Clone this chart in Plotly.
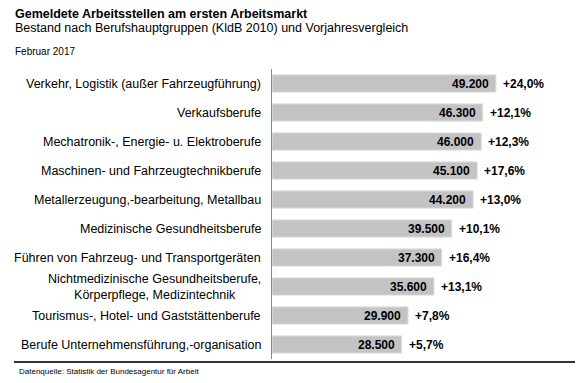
import plotly.graph_objects as go

categories = [
    "Verkehr, Logistik (außer Fahrzeugführung)",
    "Verkaufsberufe",
    "Mechatronik-, Energie- u. Elektroberufe",
    "Maschinen- und Fahrzeugtechnikberufe",
    "Metallerzeugung,-bearbeitung, Metallbau",
    "Medizinische Gesundheitsberufe",
    "Führen von Fahrzeug- und Transportgeräten",
    "Nichtmedizinische Gesundheitsberufe,<br>Körperpflege, Medizintechnik",
    "Tourismus-, Hotel- und Gaststättenberufe",
    "Berufe Unternehmensführung,-organisation",
]
values = [49200, 46300, 46000, 45100, 44200, 39500, 37300, 35600, 29900, 28500]
changes = ["+24,0%", "+12,1%", "+12,3%", "+17,6%", "+13,0%", "+10,1%", "+16,4%", "+13,1%", "+7,8%", "+5,7%"]
value_labels = ["49.200", "46.300", "46.000", "45.100", "44.200", "39.500", "37.300", "35.600", "29.900", "28.500"]

FONT = "Liberation Sans, Arial, sans-serif"
ids = list(range(len(categories)))

# page body has an 8px margin; work in reference pixel coords and shift
OFF = 8
W, H = 583 - OFF, 383 - OFF
L, T, B_PX = 272 - OFF, 69 - OFF, 359 - OFF
PW = W - 11 - L
PH = B_PX - T

fig = go.Figure()
fig.add_trace(go.Bar(
    x=values, y=ids, orientation="h",
    marker=dict(color="#c3c3c3", line=dict(color="#e6e6e6", width=1)),
    width=0.6, hoverinfo="skip",
))

ann = []
for i, (c, v, vl, ch) in enumerate(zip(categories, values, value_labels, changes)):
    ann.append(dict(x=0, xref="paper", y=i, yref="y", text=c, showarrow=False,
                    xanchor="right", align="center", xshift=-9,
                    font=dict(family=FONT, size=12.5, color="#000")))
    ann.append(dict(x=v, xref="x", y=i, yref="y", text="<b>%s</b>" % vl, showarrow=False,
                    xanchor="right", xshift=-5,
                    font=dict(family=FONT, size=12, color="#000")))
    ann.append(dict(x=v, xref="x", y=i, yref="y", text="<b>%s</b>" % ch, showarrow=False,
                    xanchor="left", xshift=5,
                    font=dict(family=FONT, size=12, color="#000")))


def px_x(x):
    return (x - OFF - L) / float(PW)


def px_y(y):
    return (B_PX - (y - OFF)) / float(PH)


ann += [
    dict(x=px_x(13), y=px_y(14), xref="paper", yref="paper", yanchor="middle", xanchor="left", showarrow=False,
         text="<b>Gemeldete Arbeitsstellen am ersten Arbeitsmarkt</b>", font=dict(family=FONT, size=12.5, color="#000")),
    dict(x=px_x(13), y=px_y(28), xref="paper", yref="paper", yanchor="middle", xanchor="left", showarrow=False,
         text="Bestand nach Berufshauptgruppen (KldB 2010) und Vorjahresvergleich", font=dict(family=FONT, size=12.5, color="#000")),
    dict(x=px_x(13), y=px_y(51), xref="paper", yref="paper", yanchor="middle", xanchor="left", showarrow=False,
         text="Februar 2017", font=dict(family=FONT, size=10, color="#000")),
    dict(x=px_x(17), y=px_y(371), xref="paper", yref="paper", yanchor="middle", xanchor="left", showarrow=False,
         text="Datenquelle: Statistik der Bundesagentur für Arbeit", font=dict(family=FONT, size=8, color="#000")),
]

fig.update_layout(
    width=W, height=H,
    margin=dict(l=L, r=11, t=T, b=H - B_PX),
    paper_bgcolor="white", plot_bgcolor="white",
    showlegend=False,
    xaxis=dict(range=[0, PW / 4.553 * 1000], visible=False, fixedrange=True),
    yaxis=dict(range=[9.5, -0.5], showticklabels=False, showgrid=False, zeroline=False,
               showline=True, linecolor="#888", linewidth=1, ticks="", fixedrange=True),
    annotations=ann,
    shapes=[dict(type="line", xref="paper", yref="paper", x0=px_x(14), x1=px_x(583),
                 y0=px_y(362), y1=px_y(362), line=dict(color="#333333", width=2), layer="above")],
)

fig.write_html("out.html")
